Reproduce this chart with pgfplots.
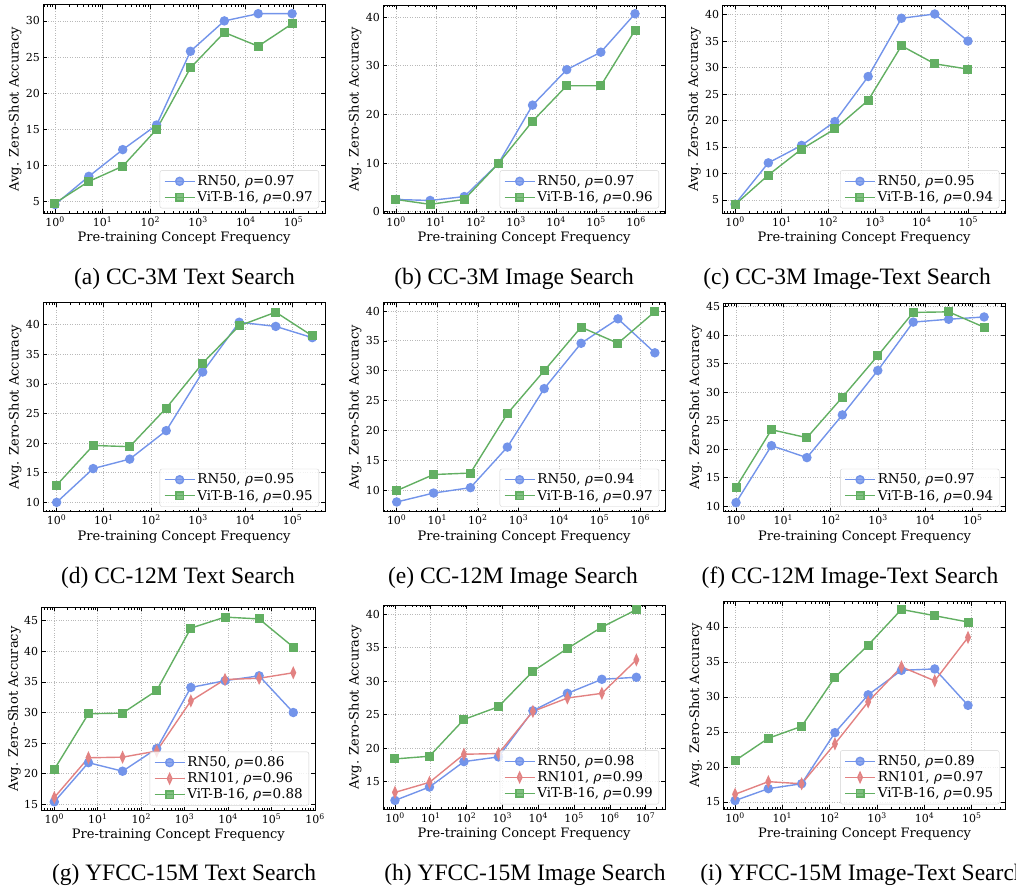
\documentclass[border=0pt]{standalone}
\usepackage{fontspec}
\setmainfont{DejaVu Serif}
\newfontfamily\capfont{Liberation Serif}
\usepackage{pgfplots}
\pgfplotsset{compat=1.18}
\definecolor{cBlue}{RGB}{115,148,234}
\definecolor{cGreen}{RGB}{98,175,98}
\definecolor{cRed}{RGB}{226,130,130}
% minor ticks of a log10 axis drawn on a linear axis of exponents
\def\minorlist{-9}%
\foreach \d in {-1,...,7}{\foreach \m in {0.30103,0.47712,0.60206,0.69897,0.77815,0.84510,0.90309,0.95424}{\pgfmathparse{\d+\m}\xdef\minorlist{\minorlist,\pgfmathresult}}}%
\pgfplotsset{
  panel/.style={
    scale only axis, anchor=north west,
    axis line style={black, line width=1pt},
    tick align=inside,
    major tick length=4pt, minor tick length=2.2pt,
    every tick/.style={black, line width=0.7pt},
    grid=major, major grid style={dotted, gray!55, line width=0.8pt},
    xtick distance=1,
    minor xtick/.expanded={\minorlist},
    xticklabel={10\textsuperscript{\pgfmathprintnumber{\tick}}},
    /pgf/number format/assume math mode=true,
    tick label style={font=\fontsize{11}{12}\selectfont},
    label style={font=\fontsize{13}{15}\selectfont},
    xlabel={Pre-training Concept Frequency},
    ylabel={Avg. Zero-Shot Accuracy},
    xlabel style={at={(axis description cs:0.5,-0.12)}, anchor=center},
    ylabel style={at={(axis description cs:-0.1,0.5)}, anchor=center},
    legend cell align=left,
    legend style={at={(1,0)}, xshift=-6pt, yshift=5pt, anchor=south east,
      draw=gray!35, rounded corners=2pt, fill=white, fill opacity=0.8, text opacity=1,
      font=\fontsize{13.5}{15}\selectfont, row sep=0.5pt, inner xsep=4pt, inner ysep=3pt},
    legend image code/.code={\draw[##1, mark repeat=2, mark phase=2] plot coordinates {(0pt,0pt) (15pt,0pt) (30pt,0pt)};},
  },
  rn50/.style={cBlue, line width=1.4pt, mark=*, mark size=4pt, mark options={solid}},
  rn101/.style={cRed, line width=1.4pt, mark=diamond*, mark size=5pt, mark options={solid, xscale=0.6}},
  vit/.style={cGreen, line width=1.4pt, mark=square*, mark size=3.8pt, mark options={solid}},
}

\begin{document}%
\begin{tikzpicture}
%%%% row 1
\begin{axis}[panel, at={(43.3pt,-5pt)}, width=281.7pt, height=208.3pt,
  xmin=-0.245, xmax=5.66, ymin=3.39, ymax=32.2, ytick={5,10,...,30}]
\addplot[rn50] coordinates {(0,4.6)(0.71,8.5)(1.42,12.2)(2.13,15.6)(2.84,25.8)(3.55,30.0)(4.26,31.0)(4.97,31.0)};
\addlegendentry{RN50, \textit{ρ}=0.97}
\addplot[vit] coordinates {(0,4.8)(0.71,7.8)(1.42,9.9)(2.13,15.0)(2.84,23.5)(3.55,28.4)(4.26,26.5)(4.97,29.6)};
\addlegendentry{ViT-B-16, \textit{ρ}=0.97}
\end{axis}
\begin{axis}[panel, at={(383.3pt,-5pt)}, width=281.7pt, height=208.3pt,
  xmin=-0.317, xmax=6.725, ymin=-0.34, ymax=42.5, ytick={0,10,...,40}]
\addplot[rn50] coordinates {(0,2.5)(0.854,2.3)(1.707,3.1)(2.561,9.9)(3.414,21.9)(4.268,29.2)(5.121,32.8)(5.975,40.7)};
\addlegendentry{RN50, \textit{ρ}=0.97}
\addplot[vit] coordinates {(0,2.5)(0.854,1.5)(1.707,2.5)(2.561,9.9)(3.414,18.6)(4.268,25.9)(5.121,25.9)(5.975,37.3)};
\addlegendentry{ViT-B-16, \textit{ρ}=0.96}
\end{axis}
\begin{axis}[panel, at={(722.7pt,-5pt)}, width=282.6pt, height=208.3pt,
  xmin=-0.264, xmax=5.79, ymin=2.48, ymax=41.8, ytick={5,10,...,40}]
\addplot[rn50] coordinates {(0,4.2)(0.713,12.0)(1.426,15.3)(2.139,19.8)(2.852,28.3)(3.565,39.3)(4.278,40.1)(4.99,35.0)};
\addlegendentry{RN50, \textit{ρ}=0.95}
\addplot[vit] coordinates {(0,4.1)(0.713,9.7)(1.426,14.6)(2.139,18.4)(2.852,23.8)(3.565,34.1)(4.278,30.7)(4.99,29.7)};
\addlegendentry{ViT-B-16, \textit{ρ}=0.94}
\end{axis}
%%%% row 2
\begin{axis}[panel, at={(43.3pt,-302.7pt)}, width=281.7pt, height=209pt,
  xmin=-0.283, xmax=5.69, ymin=8.42, ymax=43.7, ytick={10,15,...,40}]
\addplot[rn50] coordinates {(0,10.0)(0.774,15.7)(1.549,17.3)(2.323,22.1)(3.097,32.0)(3.871,40.4)(4.646,39.7)(5.42,37.8)};
\addlegendentry{RN50, \textit{ρ}=0.95}
\addplot[vit] coordinates {(0,12.9)(0.774,19.6)(1.549,19.4)(2.323,25.9)(3.097,33.5)(3.871,39.8)(4.646,42.1)(5.42,38.1)};
\addlegendentry{ViT-B-16, \textit{ρ}=0.95}
\end{axis}
\begin{axis}[panel, at={(383.3pt,-302.7pt)}, width=281.7pt, height=209pt,
  xmin=-0.33, xmax=6.61, ymin=6.37, ymax=41.4, ytick={10,15,...,40}]
\addplot[rn50] coordinates {(0,8.0)(0.909,9.5)(1.817,10.4)(2.726,17.2)(3.634,27.0)(4.543,34.6)(5.451,38.7)(6.36,33.0)};
\addlegendentry{RN50, \textit{ρ}=0.94}
\addplot[vit] coordinates {(0,9.9)(0.909,12.6)(1.817,12.85)(2.726,22.8)(3.634,30.0)(4.543,37.3)(5.451,34.6)(6.36,39.9)};
\addlegendentry{ViT-B-16, \textit{ρ}=0.97}
\end{axis}
\begin{axis}[panel, at={(723.7pt,-303.3pt)}, width=281.7pt, height=208.4pt,
  xmin=-0.26, xmax=5.69, ymin=9.0, ymax=45.6, ytick={10,15,...,45}]
\addplot[rn50] coordinates {(0,10.6)(0.749,20.6)(1.497,18.5)(2.246,26.0)(2.994,33.8)(3.743,42.3)(4.491,42.8)(5.24,43.2)};
\addlegendentry{RN50, \textit{ρ}=0.97}
\addplot[vit] coordinates {(0,13.3)(0.749,23.4)(1.497,22.0)(2.246,29.1)(2.994,36.4)(3.743,44.0)(4.491,44.1)(5.24,41.4)};
\addlegendentry{ViT-B-16, \textit{ρ}=0.94}
\end{axis}
%%%% row 3
\begin{axis}[panel, at={(41.7pt,-607.3pt)}, width=273.3pt, height=203.3pt,
  xmin=-0.29, xmax=6.0, ymin=13.96, ymax=47.2, ytick={15,20,...,45}]
\addplot[rn50] coordinates {(0,15.4)(0.786,21.8)(1.571,20.4)(2.357,24.1)(3.143,34.1)(3.929,35.2)(4.714,36.0)(5.50,30.0)};
\addlegendentry{RN50, \textit{ρ}=0.86}
\addplot[rn101] coordinates {(0,16.1)(0.786,22.6)(1.571,22.7)(2.357,23.7)(3.143,31.9)(3.929,35.4)(4.714,35.6)(5.50,36.5)};
\addlegendentry{RN101, \textit{ρ}=0.96}
\addplot[vit] coordinates {(0,20.7)(0.786,29.8)(1.571,29.9)(2.357,33.6)(3.143,43.8)(3.929,45.6)(4.714,45.3)(5.50,40.7)};
\addlegendentry{ViT-B-16, \textit{ρ}=0.88}
\end{axis}
\begin{axis}[panel, at={(383.3pt,-605pt)}, width=281.7pt, height=204.3pt,
  xmin=-0.326, xmax=7.54, ymin=10.87, ymax=41.4, ytick={15,20,...,40}]
\addplot[rn50] coordinates {(0,12.2)(0.963,14.2)(1.926,18.0)(2.889,18.7)(3.851,25.6)(4.814,28.2)(5.777,30.3)(6.74,30.6)};
\addlegendentry{RN50, \textit{ρ}=0.98}
\addplot[rn101] coordinates {(0,13.4)(0.963,14.9)(1.926,19.1)(2.889,19.2)(3.851,25.5)(4.814,27.5)(5.777,28.2)(6.74,33.2)};
\addlegendentry{RN101, \textit{ρ}=0.99}
\addplot[vit] coordinates {(0,18.4)(0.963,18.8)(1.926,24.3)(2.889,26.2)(3.851,31.5)(4.814,34.9)(5.777,38.1)(6.74,40.7)};
\addlegendentry{ViT-B-16, \textit{ρ}=0.99}
\end{axis}
\begin{axis}[panel, at={(723.7pt,-601.7pt)}, width=281.7pt, height=207.6pt,
  xmin=-0.24, xmax=5.71, ymin=13.95, ymax=43.6, ytick={15,20,...,40}]
\addplot[rn50] coordinates {(0,15.2)(0.703,16.9)(1.406,17.6)(2.109,24.9)(2.811,30.3)(3.514,33.8)(4.217,34.0)(4.92,28.8)};
\addlegendentry{RN50, \textit{ρ}=0.89}
\addplot[rn101] coordinates {(0,16.1)(0.703,17.9)(1.406,17.6)(2.109,23.3)(2.811,29.3)(3.514,34.3)(4.217,32.3)(4.92,38.5)};
\addlegendentry{RN101, \textit{ρ}=0.97}
\addplot[vit] coordinates {(0,20.9)(0.703,24.1)(1.406,25.8)(2.109,32.8)(2.811,37.4)(3.514,42.5)(4.217,41.6)(4.92,40.7)};
\addlegendentry{ViT-B-16, \textit{ρ}=0.95}
\end{axis}
%%%% captions
\begin{scope}[every node/.style={font=\capfont\fontsize{23.5}{26}\selectfont, anchor=base, inner sep=0pt}]
\node at (184.5pt,-284pt) {(a) CC-3M Text Search};
\node at (514pt,-284pt) {(b) CC-3M Image Search};
\node at (847pt,-284pt) {(c) CC-3M Image-Text Search};
\node at (178pt,-583pt) {(d) CC-12M Text Search};
\node at (513pt,-583pt) {(e) CC-12M Image Search};
\node at (850pt,-583pt) {(f) CC-12M Image-Text Search};
\node at (184pt,-880pt) {(g) YFCC-15M Text Search};
\node at (525pt,-880pt) {(h) YFCC-15M Image Search};
\node at (863pt,-880pt) {(i) YFCC-15M Image-Text Search};
\end{scope}
\pgfresetboundingbox
\path[use as bounding box] (0pt,0pt) rectangle (1016pt,-886pt);
\end{tikzpicture}%
\end{document}
